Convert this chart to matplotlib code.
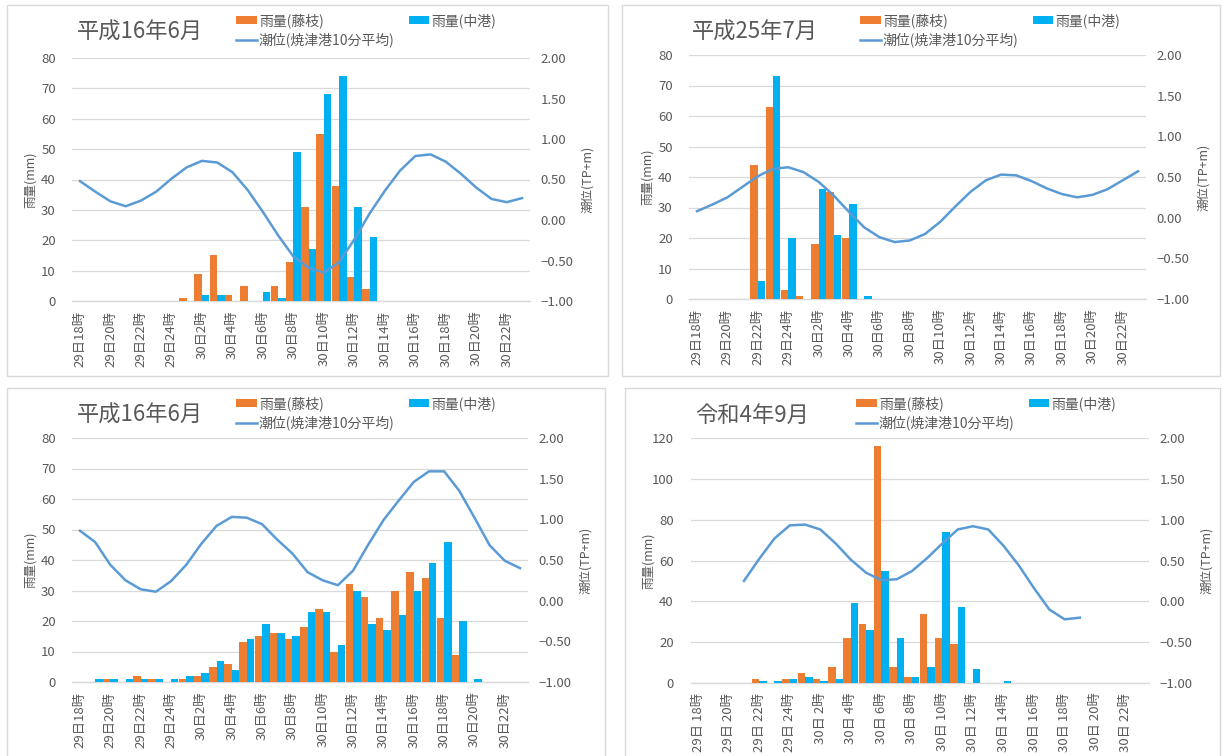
import matplotlib
matplotlib.use("Agg")
import matplotlib.pyplot as plt
import matplotlib.patches as mpatches
from matplotlib.ticker import FuncFormatter
import numpy as np

plt.rcParams['font.family'] = ['Noto Sans CJK JP', 'DejaVu Sans']

# 時刻(29日18時〜30日23時の1時間毎)
hours_a = ['29日18時', '29日19時', '29日20時', '29日21時', '29日22時', '29日23時', '29日24時',
           '30日1時', '30日2時', '30日3時', '30日4時', '30日5時', '30日6時', '30日7時',
           '30日8時', '30日9時', '30日10時', '30日11時', '30日12時', '30日13時', '30日14時',
           '30日15時', '30日16時', '30日17時', '30日18時', '30日19時', '30日20時', '30日21時',
           '30日22時', '30日23時']
hours_b = ['29日 18時', '29日 19時', '29日 20時', '29日 21時', '29日 22時', '29日 23時', '29日 24時',
           '30日 1時', '30日 2時', '30日 3時', '30日 4時', '30日 5時', '30日 6時', '30日 7時',
           '30日 8時', '30日 9時', '30日 10時', '30日 11時', '30日 12時', '30日 13時', '30日 14時',
           '30日 15時', '30日 16時', '30日 17時', '30日 18時', '30日 19時', '30日 20時', '30日 21時',
           '30日 22時', '30日 23時']

# 平成16年6月(上段)
fujieda_1 = [0, 0, 0, 0, 0, 0, 0, 1, 9, 15, 2, 5, 0, 5, 13, 31, 55, 38, 8, 4, 0, 0, 0, 0, 0, 0, 0, 0, 0, 0]
nakaminato_1 = [0, 0, 0, 0, 0, 0, 0, 0, 2, 2, 0, 0, 3, 1, 49, 17, 68, 74, 31, 21, 0, 0, 0, 0, 0, 0, 0, 0, 0, 0]
tide_1 = [0.48, 0.35, 0.23, 0.17, 0.24, 0.35, 0.51, 0.65, 0.73, 0.71, 0.59, 0.37, 0.10, -0.19, -0.45,
          -0.59, -0.65, -0.52, -0.24, 0.08, 0.36, 0.61, 0.79, 0.81, 0.72, 0.57, 0.40, 0.26, 0.22, 0.27]

# 平成25年7月
fujieda_2 = [0, 0, 0, 0, 44, 63, 3, 1, 18, 35, 20, 0, 0, 0, 0, 0, 0, 0, 0, 0, 0, 0, 0, 0, 0, 0, 0, 0, 0, 0]
nakaminato_2 = [0, 0, 0, 0, 6, 73, 20, 0, 36, 21, 31, 1, 0, 0, 0, 0, 0, 0, 0, 0, 0, 0, 0, 0, 0, 0, 0, 0, 0, 0]
tide_2 = [0.08, 0.16, 0.25, 0.38, 0.51, 0.60, 0.62, 0.56, 0.44, 0.27, 0.07, -0.12, -0.24, -0.30, -0.28,
          -0.20, -0.05, 0.14, 0.32, 0.46, 0.53, 0.52, 0.45, 0.36, 0.29, 0.25, 0.28, 0.35, 0.46, 0.57]

# 平成16年6月(下段)
fujieda_3 = [0, 0, 1, 0, 2, 1, 0, 1, 2, 5, 6, 13, 15, 16, 14, 18, 24, 10, 32, 28, 21, 30, 36, 34, 21, 9, 0, 0, 0, 0]
nakaminato_3 = [0, 1, 1, 1, 1, 1, 1, 2, 3, 7, 4, 14, 19, 16, 15, 23, 23, 12, 30, 19, 17, 22, 30, 39, 46, 20, 1, 0, 0, 0]
tide_3 = [0.86, 0.72, 0.44, 0.25, 0.14, 0.11, 0.24, 0.44, 0.70, 0.92, 1.03, 1.02, 0.94, 0.75, 0.58,
          0.35, 0.25, 0.19, 0.37, 0.69, 0.99, 1.23, 1.46, 1.59, 1.59, 1.35, 1.02, 0.68, 0.49, 0.40]

# 令和4年9月
fujieda_4 = [0, 0, 0, 0, 2, 0, 2, 5, 2, 8, 22, 29, 116, 8, 3, 34, 22, 19, 0, 0, 0, 0, 0, 0, 0, 0, 0, 0, 0, 0]
nakaminato_4 = [0, 0, 0, 0, 1, 1, 2, 3, 1, 2, 39, 26, 55, 22, 3, 8, 74, 37, 7, 0, 1, 0, 0, 0, 0, 0, 0, 0, 0, 0]
tide_4 = [np.nan, np.nan, np.nan, 0.25, 0.52, 0.77, 0.93, 0.94, 0.88, 0.71, 0.51, 0.35, 0.26, 0.27, 0.37,
          0.53, 0.71, 0.88, 0.92, 0.88, 0.68, 0.44, 0.16, -0.10, -0.22, -0.20, np.nan, np.nan, np.nan, np.nan]

ORANGE = '#ED7D31'
BLUE = '#00B0F0'
LINE = '#5B9BD5'
TEXT = '#595959'
GRID = '#D9D9D9'

W, H = 1222, 756
fig = plt.figure(figsize=(W / 100, H / 100), dpi=100)


def px_rect(x0, y0, x1, y1):
    return [x0 / W, 1 - y1 / H, (x1 - x0) / W, (y1 - y0) / H]


def draw_panel(frame, plot, title, fujieda, nakaminato, tide, hours, ymax, ystep, legend_x):
    fx0, fy0, fx1, fy1 = frame
    fig.patches.append(mpatches.Rectangle((fx0 / W, 1 - fy1 / H), (fx1 - fx0) / W, (fy1 - fy0) / H,
                                          transform=fig.transFigure, facecolor='white',
                                          edgecolor=GRID, lw=1.0, zorder=-5))
    x0, y0, x1, y1 = plot
    ax = fig.add_axes(px_rect(x0, y0, x1, y1))
    ax.set_facecolor('none')
    n = len(hours)
    x = np.arange(n)
    b1 = ax.bar(x - 0.245, fujieda, width=0.49, color=ORANGE, label='雨量(藤枝)', zorder=3)
    b2 = ax.bar(x + 0.245, nakaminato, width=0.49, color=BLUE, label='雨量(中港)', zorder=3)
    ax.set_xlim(-0.5, n - 0.5)
    ax.set_ylim(0, ymax)
    ax.set_yticks(np.arange(0, ymax + 1, ystep))
    ax.grid(axis='y', color=GRID, lw=0.9, zorder=0)
    ax.set_axisbelow(True)
    for s in ['top', 'right', 'left']:
        ax.spines[s].set_visible(False)
    ax.spines['bottom'].set_color(GRID)
    ax.spines['bottom'].set_linewidth(1.0)
    ax.set_xticks(x[::2], hours[::2], rotation=90)
    ax.tick_params(axis='x', length=0, pad=7, labelsize=9.5, labelcolor=TEXT)
    ax.tick_params(axis='y', length=0, pad=12, labelsize=9.5, labelcolor=TEXT)

    ax2 = ax.twinx()
    ln, = ax2.plot(x, tide, color=LINE, lw=1.8, label='潮位(焼津港10分平均)', zorder=4)
    ax2.set_ylim(-1, 2)
    ax2.set_yticks(np.arange(-1, 2.01, 0.5))
    ax2.yaxis.set_major_formatter(FuncFormatter(lambda v, p: f'{v:.2f}'.replace('-', '−')))
    for s in ax2.spines.values():
        s.set_visible(False)
    ax2.tick_params(axis='y', length=0, pad=8, labelsize=9.5, labelcolor=TEXT)

    pw = x1 - x0
    ax.text(-42 / pw, 0.5, '雨量(mm)', rotation=90, ha='center', va='center',
            transform=ax.transAxes, fontsize=9, color=TEXT)
    ax.text(1 + 58 / pw, 0.5, '潮位(TP+m)', rotation=90, ha='center', va='center',
            transform=ax.transAxes, fontsize=9, color=TEXT)

    fig.text((fx0 + 70) / W, 1 - (fy0 + 27) / H, title, fontsize=16, color=TEXT,
             ha='left', va='center')
    fig.legend([b1, ln, b2], ['雨量(藤枝)', '潮位(焼津港10分平均)', '雨量(中港)'],
               loc='upper left', bbox_to_anchor=(legend_x / W, 1 - (fy0 + 8) / H),
               ncol=2, frameon=False, fontsize=10, labelcolor=TEXT,
               handlelength=1.5, handleheight=0.45, handletextpad=0.15,
               columnspacing=1.0, labelspacing=0.3, borderpad=0, borderaxespad=0)


draw_panel((7, 5, 608, 376), (72.4, 58, 529.6, 301), '平成16年6月',
           fujieda_1, nakaminato_1, tide_1, hours_a, 80, 10, 236)
draw_panel((622, 5, 1220, 376), (689.4, 55, 1145.6, 299), '平成25年7月',
           fujieda_2, nakaminato_2, tide_2, hours_a, 80, 10, 860)
draw_panel((7, 388, 605, 760), (72.4, 438, 527.6, 682), '平成16年6月',
           fujieda_3, nakaminato_3, tide_3, hours_a, 80, 10, 236)
draw_panel((625, 388, 1220, 760), (690.5, 438, 1148.6, 683), '令和4年9月',
           fujieda_4, nakaminato_4, tide_4, hours_b, 120, 20, 856)

fig.savefig('out.png', dpi=100, facecolor='white')
